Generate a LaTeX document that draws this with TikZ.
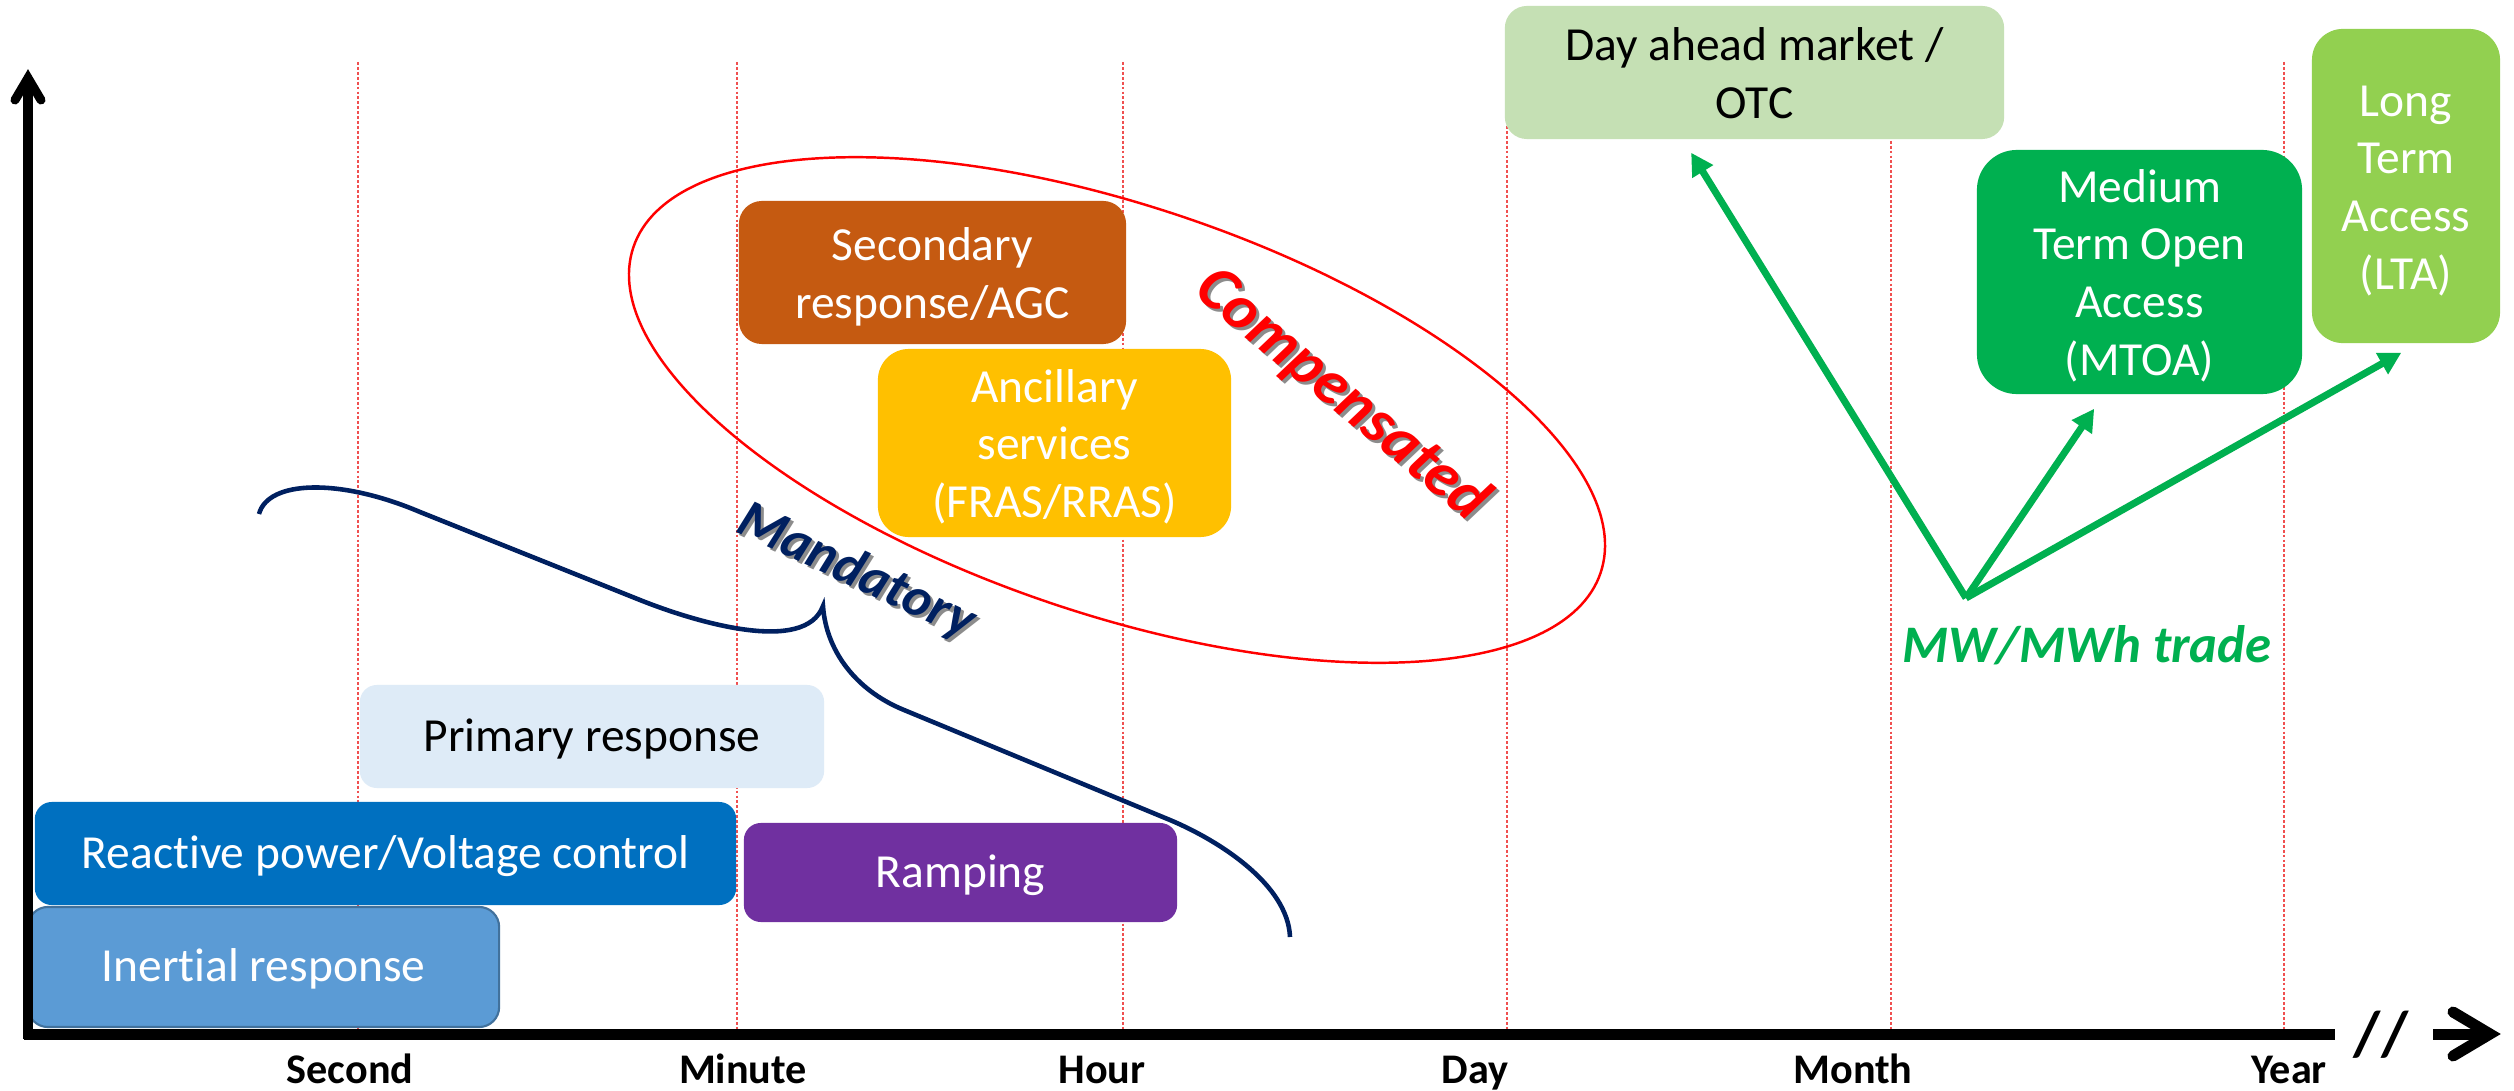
\documentclass[tikz,border=0pt]{standalone}
\usepackage{fontspec}
\setmainfont{Carlito}[Ligatures=NoCommon]
\usetikzlibrary{arrows.meta,calc}
\definecolor{cinertial}{HTML}{5B9BD5}
\definecolor{cinertialb}{HTML}{41719C}
\definecolor{creactive}{HTML}{0070C0}
\definecolor{cprimary}{HTML}{DEEBF7}
\definecolor{cramping}{HTML}{7030A0}
\definecolor{csecondary}{HTML}{C55A11}
\definecolor{cancillary}{HTML}{FFC000}
\definecolor{cdayahead}{HTML}{C5E0B4}
\definecolor{cmtoa}{HTML}{00B050}
\definecolor{clta}{HTML}{92D050}
\definecolor{cnavy}{HTML}{002060}
\definecolor{cgrid}{HTML}{F05050}
\definecolor{cshadow}{HTML}{8C8C8C}
\tikzset{
  box/.style={inner sep=0pt, align=flush center, text=white,
    font=\fontsize{13.5}{16.4}\selectfont, text height=8.5pt, text depth=0pt},
  twolines/.style={text height=9.5pt, text depth=16.4pt},
  threelines/.style={text height=9.5pt, text depth=32.8pt},
  fourlines/.style={text height=9.5pt, text depth=49.2pt},
  gridline/.style={draw=cgrid, line width=0.35pt, dash pattern=on 0.8pt off 0.6pt},
  axislabel/.style={anchor=base, font=\fontsize{12}{14}\selectfont\bfseries},
  greenarrow/.style={draw=cmtoa, line width=2pt, -{Triangle[length=6.3pt,width=6.6pt]}},
  slanted/.style={font=\fontsize{#1}{#1}\selectfont\bfseries\itshape},
}
\begin{document}
\begin{tikzpicture}[x=0.01cm,y=-0.01cm]
\useasboundingbox[fill=white] (0,0) rectangle (2514,1091);

% grid lines
\foreach \gx in {358,737,1123,1507,1891,2284}
  \draw[gridline] (\gx,62) -- (\gx,1030);

% compensated ellipse
\draw[red, line width=0.7pt, rotate around={-18.6:(1117,410)}]
  (1117,410) ellipse [x radius=5.10cm, y radius=2.04cm];

% mandatory brace
\draw[cnavy, line width=1.3pt]
  (259,514) .. controls (268,480) and (340,478) .. (420,512)
  -- (640,600) .. controls (695,622) and (805,655) .. (823,606)
  .. controls (826,650) and (855,690) .. (904,710)
  -- (1170,820) .. controls (1220,841) and (1288,885) .. (1290,937);

% boxes
\node[box, fill=cinertial, draw=cinertialb, line width=0.6pt, rounded corners=0.2cm,
  minimum width=4.71cm, minimum height=1.20cm] (inertial) at (263.5,967) {Inertial response};
\node[box, fill=creactive, rounded corners=0.17cm,
  minimum width=7.01cm, minimum height=1.03cm] (reactive) at (385.5,853.5) {Reactive power/Voltage control};
\node[box, fill=cprimary, text=black, rounded corners=0.17cm,
  minimum width=4.64cm, minimum height=1.03cm] (primary) at (592,736.5) {Primary response};
\node[box, fill=cramping, rounded corners=0.17cm,
  minimum width=4.33cm, minimum height=0.99cm] (ramping) at (960.5,872.5) {Ramping};
\node[box, twolines, fill=csecondary, rounded corners=0.23cm, text width=3.7cm,
  minimum width=3.87cm, minimum height=1.43cm] (secondary) at (932.5,272.5) {Secondary\\response/AGC};
\node[box, threelines, fill=cancillary, rounded corners=0.31cm, text width=3.4cm,
  minimum width=3.53cm, minimum height=1.88cm] (ancillary) at (1054.5,443) {Ancillary\\services\\(FRAS/RRAS)};
\node[box, twolines, fill=cdayahead, text=black, rounded corners=0.22cm, text width=4.8cm,
  minimum width=4.99cm, minimum height=1.33cm] (dayahead) at (1754.5,72.5) {Day ahead market /\\OTC};
\node[box, fourlines, fill=cmtoa, rounded corners=0.40cm, text width=3.1cm,
  minimum width=3.25cm, minimum height=2.44cm] (mtoa) at (2139.5,272) {Medium\\Term Open\\Access\\(MTOA)};
\node[box, fourlines, fill=clta, rounded corners=0.31cm, text width=1.75cm,
  minimum width=1.88cm, minimum height=3.14cm] (lta) at (2406,186) {Long\\Term\\Access\\(LTA)};

% slanted labels with shadows
\node[slanted=18, text=cshadow, rotate=-39.6] (compsh) at (1345,398) {Compensated};
\node[slanted=18, text=red, rotate=-39.6] (comp) at (1342,395) {Compensated};
\node[slanted=15.5, text=cshadow, rotate=-24.9] (mandsh) at (859,575) {Mandatory};
\node[slanted=15.5, text=cnavy, rotate=-24.9] (mand) at (856,572) {Mandatory};
\node[slanted=15, text=cmtoa] (trade) at (2087,645) {MW/MWh trade};

% green arrows
\coordinate (hub) at (1966,598);
\coordinate (tipDA) at ($(dayahead.south west)+(187,13)$);
\coordinate (tipM) at ($(mtoa.south west)+(118,14)$);
\coordinate (tipL) at ($(lta.south west)+(90,9)$);
\draw[greenarrow] (hub) -- (tipDA);
\draw[greenarrow] (hub) -- (tipM);
\draw[greenarrow] (hub) -- (tipL);

% axes
\coordinate (origin) at (28,1034);
\coordinate (ytip) at (28,78);
\coordinate (xend) at (2335,1034);
\draw[line width=2.56pt] (28,1039) -- (ytip);
\draw[line width=2.56pt, line cap=round, line join=miter] (15,100) -- (ytip) -- (41,100);
\draw[line width=3.13pt] (23.5,1034) -- (xend);
\coordinate (ashaft) at (2433,1034);
\coordinate (atip) at (2490,1034);
\draw[line width=3.13pt] (ashaft) -- (atip);
\draw[line width=3.13pt, line cap=round, line join=miter] (2453,1012) -- (atip) -- (2453,1056);
\node[font=\fontsize{18}{18}\selectfont\bfseries, inner sep=0pt] (brk) at (2381,1035) {//};

% axis labels
\node[axislabel] (lsec) at (350,1083) {Second};
\node[axislabel] (lmin) at (743,1083) {Minute};
\node[axislabel] (lhour) at (1102,1083) {Hour};
\node[axislabel] (lday) at (1475,1083) {Day};
\node[axislabel] (lmonth) at (1853,1083) {Month};
\node[axislabel] (lyear) at (2289,1083) {Year};
\end{tikzpicture}
\end{document}
